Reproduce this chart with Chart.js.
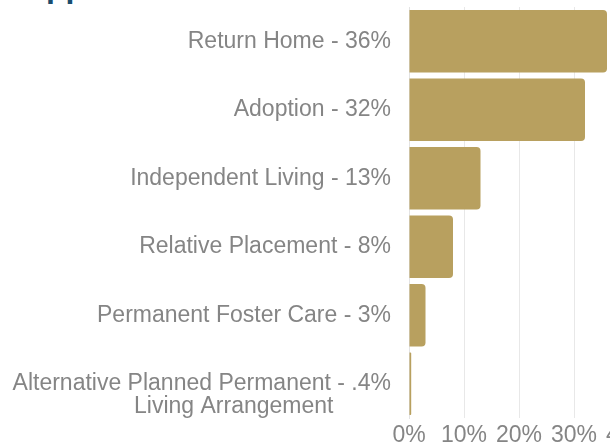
<!DOCTYPE html>
<html>
<head>
<meta charset="utf-8">
<script src="https://cdn.jsdelivr.net/npm/chart.js@4"></script>
<style>
    body { margin: 0; width: 610px; height: 444px; overflow: hidden; position: relative; background: #fff; }
    h2 { position: absolute; left: 5px; top: -30px; margin: 0; font: bold 32px/32px "Liberation Sans", Arial, sans-serif; color: #1a4d6e; white-space: nowrap; }
    #goalChart { position: absolute; left: 0; top: 0; }
</style>
</head>
<body>
<h2>Support</h2>
<canvas id="goalChart" width="660" height="453"></canvas>
<script>
// Categories (label lines), one per bar
var goalLabels = [
    'Return Home - 36%',
    'Adoption - 32%',
    'Independent Living - 13%',
    'Relative Placement - 8%',
    'Permanent Foster Care - 3%',
    ['', 'Alternative Planned Permanent - .4%', 'Living Arrangement         ']
];
// Share of children per goal, in percent
var goalShares = [36, 32, 13, 8, 3, 0.4];
// x axis ticks
var tickValues = [0, 10, 20, 30, 40];

var barGold = '#b8a05f';
var tickGray = '#858585';
var tickFont = { family: '"Liberation Sans", Arial, sans-serif', size: 23, lineHeight: 1 };

var ctx = document.getElementById('goalChart').getContext('2d');

var goalChart = new Chart(ctx, {
    type: 'bar',
    data: {
        labels: goalLabels,
        datasets: [{
            data: goalShares,
            backgroundColor: barGold,
            borderRadius: 4,
            barPercentage: 0.91,
            categoryPercentage: 1
        }]
    },
    options: {
        indexAxis: 'y',
        responsive: false,
        animation: false,
        layout: { padding: { top: 7, right: 31, left: 0, bottom: 0 } },
        plugins: {
            legend: { display: false },
            tooltip: { enabled: false }
        },
        scales: {
            x: {
                min: tickValues[0],
                max: tickValues[tickValues.length - 1],
                afterBuildTicks: function(scale) {
                    scale.ticks = tickValues.map(function(v) { return { value: v }; });
                },
                afterFit: function(scale) {
                    scale.paddingLeft = 0;
                    scale.paddingRight = 0;
                },
                grid: { color: '#e8e8e8', drawTicks: false },
                border: { display: false },
                ticks: {
                    color: tickGray,
                    font: tickFont,
                    padding: 6,
                    maxRotation: 0,
                    callback: function(v) { return v + '%'; }
                }
            },
            y: {
                afterFit: function(scale) {
                    scale.width = 409; // left edge of the plot
                    scale.paddingTop = 0;
                    scale.paddingBottom = 0;
                },
                grid: { display: false, drawTicks: false },
                border: { display: true, color: '#e3e3e3', width: 1 },
                ticks: {
                    color: tickGray,
                    font: tickFont,
                    padding: 18,
                    autoSkip: false
                }
            }
        }
    }
});
</script>
</body>
</html>
